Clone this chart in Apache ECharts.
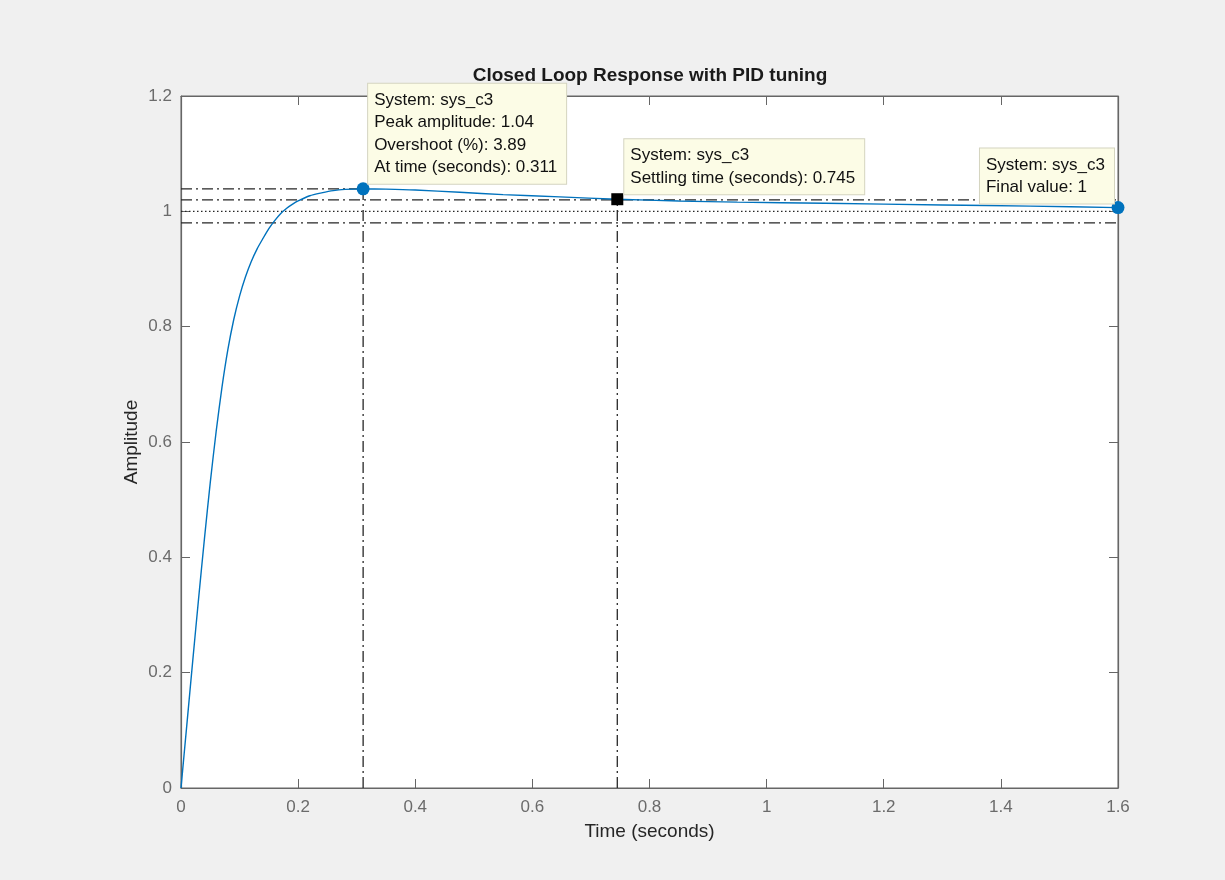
<!DOCTYPE html>
<html>
<head>
<meta charset="utf-8">
<title>Closed Loop Response with PID tuning</title>
<script src="https://cdn.jsdelivr.net/npm/echarts@6/dist/echarts.min.js"></script>
<style>
    html, body { margin: 0; padding: 0; background: #f0f0f0; }
    #main { width: 1225px; height: 880px; }
</style>
</head>
<body>
<div id="main"></div>
<script>
// step response
let timeS = [0, 0.005, 0.01, 0.02, 0.03, 0.04, 0.05, 0.06, 0.07, 0.08, 0.09, 0.10, 0.11, 0.12, 0.13, 0.14,
    0.15, 0.16, 0.17, 0.18, 0.19, 0.20, 0.22, 0.24, 0.26, 0.28, 0.311, 0.35, 0.40, 0.476, 0.55, 0.647,
    0.745, 0.85, 0.95, 1.1, 1.3, 1.45, 1.6];
let amplitude = [0, 0.055, 0.11, 0.22, 0.328, 0.432, 0.53, 0.618, 0.695, 0.76, 0.812, 0.853, 0.886, 0.913, 0.935, 0.953,
    0.970, 0.984, 0.996, 1.005, 1.012, 1.018, 1.027, 1.032, 1.036, 1.038, 1.039, 1.0385, 1.037, 1.033, 1.029, 1.025,
    1.021, 1.018, 1.016, 1.014, 1.011, 1.009, 1.0065];

let peakPoint = [0.311, 1.039];
let settlePoint = [0.745, 1.021];
let finalPoint = [1.6, 1.0065];
let finalValue = 1;
let bandLow = 0.98;
let bandHigh = 1.02;

let xTicks = ['0', '0.2', '0.4', '0.6', '0.8', '1', '1.2', '1.4', '1.6'];
let yTicks = ['0', '0.2', '0.4', '0.6', '0.8', '1', '1.2'];

let tipPeak = ['System: sys_c3', 'Peak amplitude: 1.04', 'Overshoot (%): 3.89', 'At time (seconds): 0.311'];
let tipSettle = ['System: sys_c3', 'Settling time (seconds): 0.745'];
let tipFinal = ['System: sys_c3', 'Final value: 1'];

const FONT = '"Liberation Sans", Arial, Helvetica, sans-serif';
const TIP_FONT = '17px ' + FONT;
const TIP_PAD = [5, 9, 5, 6];
const dashDot = [11, 4, 2, 4];
const dotted = [1.5, 2.5];
const xMax = Number(xTicks[xTicks.length - 1]);
const yMax = Number(yTicks[yTicks.length - 1]);
const GRID = {left: 181, right: 107, top: 96, bottom: 92};

function refLine(points, type) {
    return {
        type: 'line',
        data: points,
        symbol: 'none',
        silent: true,
        z: 1,
        lineStyle: {color: '#262626', width: 1.3, type: type}
    }
}

function axisCommon(show) {
    return {
        type: 'value',
        min: 0,
        interval: 0.2,
        axisLine: {show: true, onZero: false, lineStyle: {color: '#666666', width: 1.2}},
        axisTick: {show: true, inside: true, length: 9, lineStyle: {color: '#666666'}},
        axisLabel: {show: show, color: '#6b6b6b', fontSize: 17, fontFamily: FONT},
        splitLine: {show: false}
    }
}

let chart = echarts.init(document.getElementById('main'));

let option = {
    backgroundColor: '#f0f0f0',
    animation: false,
    title: {
        text: 'Closed Loop Response with PID tuning',
        left: 645,
        textAlign: 'center',
        top: 61,
        textStyle: {fontSize: 19, fontWeight: 'bold', color: '#1a1a1a', fontFamily: FONT}
    },
    grid: Object.assign({
        show: true, backgroundColor: '#ffffff', borderColor: '#666666', borderWidth: 1
    }, GRID),
    xAxis: [
        Object.assign(axisCommon(true), {
            max: xMax, position: 'bottom',
            name: 'Time (seconds)', nameLocation: 'middle', nameGap: 34,
            nameTextStyle: {fontSize: 19, color: '#262626', fontFamily: FONT},
            axisLabel: {color: '#6b6b6b', fontSize: 17, fontFamily: FONT, margin: 11}
        }),
        Object.assign(axisCommon(false), {max: xMax, position: 'top'})
    ],
    yAxis: [
        Object.assign(axisCommon(true), {
            max: yMax, position: 'left',
            name: 'Amplitude', nameLocation: 'middle', nameGap: 40, nameMoveOverlap: false,
            nameTextStyle: {fontSize: 19, color: '#262626', fontFamily: FONT},
            axisLabel: {color: '#6b6b6b', fontSize: 17, fontFamily: FONT, margin: 9}
        }),
        Object.assign(axisCommon(false), {max: yMax, position: 'right'})
    ],
    series: [
        refLine([[0, peakPoint[1]], peakPoint], dashDot),
        refLine([[peakPoint[0], 0], peakPoint], dashDot),
        refLine([[0, bandHigh], [xMax, bandHigh]], dashDot),
        refLine([[0, bandLow], [xMax, bandLow]], dashDot),
        refLine([[0, finalValue], [xMax, finalValue]], dotted),
        refLine([[settlePoint[0], 0], settlePoint], dashDot),
        {
            type: 'line',
            data: timeS.map((t, i) => [t, amplitude[i]]),
            symbol: 'none',
            smooth: 0.25,
            z: 3,
            lineStyle: {color: '#0072bd', width: 1.4}
        },
        {
            type: 'scatter',
            data: [peakPoint, finalPoint],
            symbol: 'circle',
            symbolSize: 13,
            z: 5,
            itemStyle: {color: '#0072bd', opacity: 1}
        },
        {
            type: 'scatter',
            data: [settlePoint],
            symbol: 'rect',
            symbolSize: 12,
            z: 5,
            itemStyle: {color: '#000000', opacity: 1}
        }
    ]
};

chart.setOption(option);

let measureCtx = document.createElement('canvas').getContext('2d');
measureCtx.font = TIP_FONT;

function tipWidth(lines) {
    let w = 0;
    for (let l of lines) {
        w = Math.max(w, measureCtx.measureText(l).width);
    }
    return w + TIP_PAD[1] + TIP_PAD[3];
}

// datatip box: left-bottom corner at point + (dx, dy); toLeft puts box's right edge there
function tip(point, lines, dx, dy, toLeft) {
    let p = chart.convertToPixel({gridIndex: 0}, point);
    let x = p[0] + dx;
    if (toLeft) {
        x = p[0] + dx - tipWidth(lines);
    }
    return {
        type: 'text',
        z: 100,
        x: x,
        y: p[1] + dy,
        style: {
            text: lines.join('\n'),
            font: TIP_FONT,
            fill: '#111111',
            lineHeight: 22.5,
            align: 'left',
            verticalAlign: 'bottom',
            textAlign: 'left',
            textVerticalAlign: 'bottom',
            backgroundColor: '#fcfce6',
            borderColor: '#d4d4c0',
            borderWidth: 1,
            padding: TIP_PAD
        }
    }
}

chart.setOption({
    graphic: [
        tip(peakPoint, tipPeak, 5, -5, false),
        tip(settlePoint, tipSettle, 7, -5, false),
        tip(finalPoint, tipFinal, -4, -4, true)
    ]
});
</script>
</body>
</html>
